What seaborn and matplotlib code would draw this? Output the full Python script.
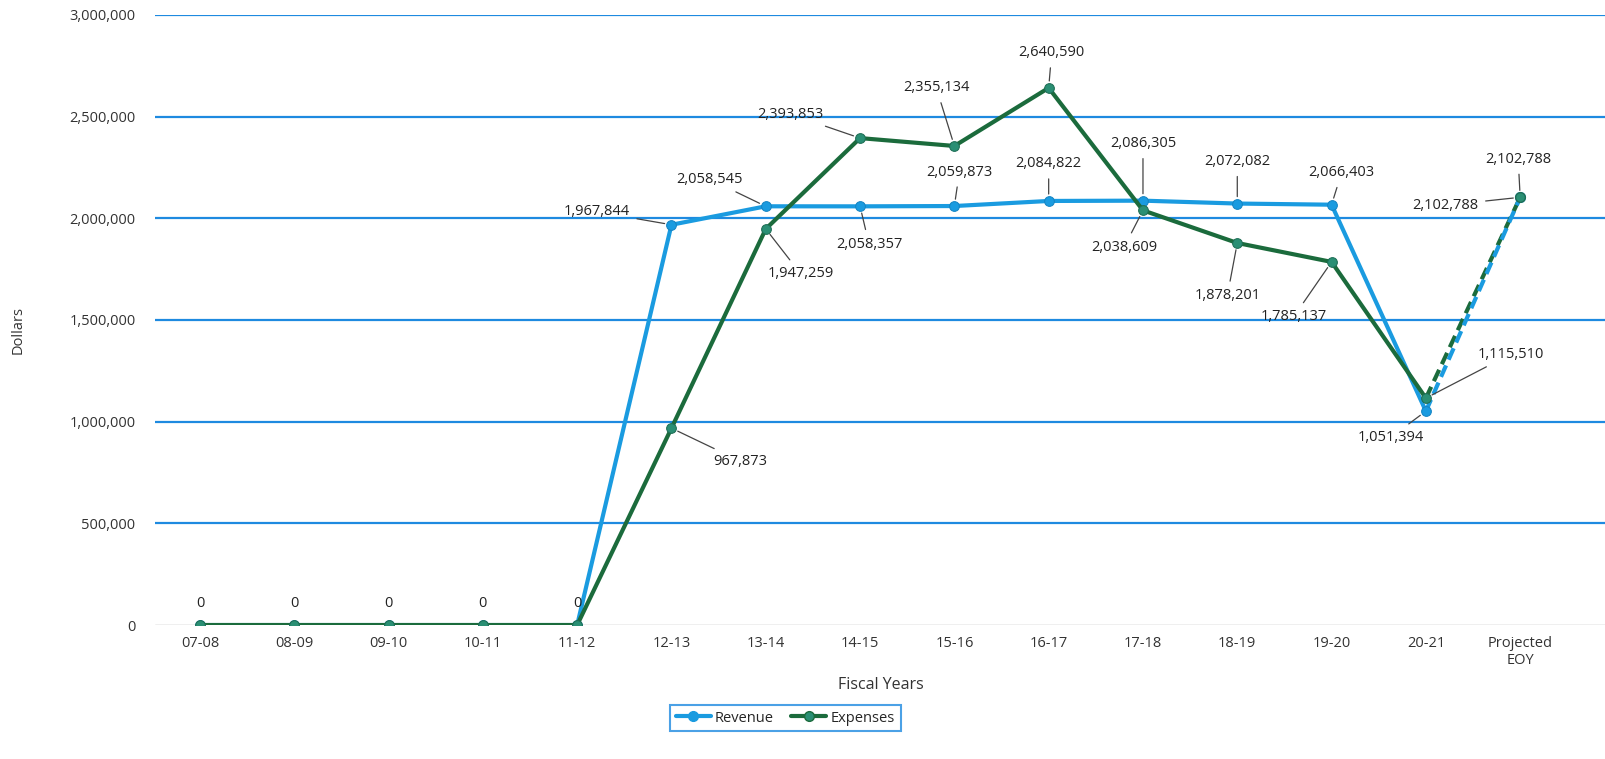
import numpy as np
import pandas as pd
import matplotlib
matplotlib.use("Agg")
import matplotlib.pyplot as plt
from matplotlib.lines import Line2D
import seaborn as sns

# data
years = ['07-08', '08-09', '09-10', '10-11', '11-12', '12-13', '13-14', '14-15',
         '15-16', '16-17', '17-18', '18-19', '19-20', '20-21', 'Projected\nEOY']
revenue = [0, 0, 0, 0, 0, 1967844, 2058545, 2058357, 2059873, 2084822,
           2086305, 2072082, 2066403, 1051394, 2102788]
expenses = [0, 0, 0, 0, 0, 967873, 1947259, 2393853, 2355134, 2640590,
            2038609, 1878201, 1785137, 1115510, 2102788]

blue = '#1A9BE0'
green = '#1B6B3C'
green_mk = '#2A8F74'
grid_blue = '#1E8AE0'

sns.set_theme(style='white')
plt.rcParams['font.family'] = ['Open Sans', 'DejaVu Sans']

fig = plt.figure(figsize=(16.06, 7.59), dpi=100)
ax = fig.add_axes([0.0965, 0.1765, 0.9035, 0.804])

idx = np.arange(len(years))
df = pd.DataFrame({'x': np.concatenate([idx, idx]),
                   'y': revenue + expenses,
                   'series': ['Revenue'] * len(idx) + ['Expenses'] * len(idx)})
solid = df[df['x'] <= 13]
proj = df[df['x'] >= 13]

# gridlines
for v in range(500000, 3000001, 500000):
    ax.axhline(v, color=grid_blue, lw=1.6, zorder=1)
ax.axhline(0, color='#B0B0B0', lw=1.0, zorder=1)

# projected (dashed) segment
sns.lineplot(data=proj[proj['series'] == 'Expenses'], x='x', y='y', color=green,
             lw=3, ax=ax, linestyle=(0, (3, 1.5)), zorder=3)
sns.lineplot(data=proj[proj['series'] == 'Revenue'], x='x', y='y', color=blue,
             lw=3, ax=ax, linestyle=(0, (3, 1.5)), zorder=3)

# solid lines
sns.lineplot(data=solid[solid['series'] == 'Revenue'], x='x', y='y', color=blue,
             lw=3, ax=ax, marker='o', markersize=7, markerfacecolor=blue,
             markeredgecolor='#1585C4', zorder=4)
sns.lineplot(data=solid[solid['series'] == 'Expenses'], x='x', y='y', color=green,
             lw=3, ax=ax, marker='o', markersize=7, markerfacecolor=green_mk,
             markeredgecolor='#1E6E55', zorder=5)
ax.plot([14], [revenue[14]], 'o', color=blue, ms=7, zorder=6)
ax.plot([14], [expenses[14]], 'o', color=green_mk, mec='#1E6E55', ms=7, zorder=7)

# data labels (offsets in pixels)
rev_off = [(0, 22), (0, 22), (0, 22), (0, 22), (0, 22), (-75, 13), (-56, 27),
           (9, -38), (5, 34), (0, 37), (0, 57), (0, 42), (10, 32), (-35, -26), (-2, 38)]
exp_off = [None, None, None, None, None, (69, -33), (35, -45), (-70, 24), (-18, 58),
           (3, 35), (-19, -37), (-10, -53), (-38, -55), (85, 44), (-75, -8)]

def put_labels(vals, offs):
    for i, (v, off) in enumerate(zip(vals, offs)):
        if off is None:
            continue
        line = None if v == 0 else dict(arrowstyle='-', color='#444444', lw=0.9,
                                        shrinkA=3, shrinkB=5)
        ax.annotate(f'{v:,}', xy=(i, v), xytext=off, textcoords='offset pixels',
                    ha='center', va='center', fontsize=10.5, color='#222222',
                    arrowprops=line, zorder=8)

put_labels(revenue, rev_off)
put_labels(expenses, exp_off)

ax.set_xlim(-0.477, 14.91)
ax.set_ylim(0, 3000000)
ax.set_xticks(idx)
ax.set_xticklabels(years, fontsize=10.5, color='#333333')
ax.set_yticks(range(0, 3000001, 500000))
ax.set_yticklabels([f'{v:,}' for v in range(0, 3000001, 500000)], fontsize=10.5, color='#333333')
ax.tick_params(axis='y', pad=14, length=0)
ax.tick_params(axis='x', pad=8, length=0)
ax.set_xlabel('Fiscal Years', fontsize=11.5, color='#333333', labelpad=6)
ax.set_ylabel('')
fig.text(0.0115, 0.565, 'Dollars', rotation=90, ha='center', va='center',
         fontsize=10.5, color='#333333')
sns.despine(ax=ax, left=True, bottom=True, top=True, right=True)

handles = [Line2D([], [], color=blue, lw=3, marker='o', ms=7, mfc=blue),
           Line2D([], [], color=green, lw=3, marker='o', ms=7, mfc=green_mk)]
leg = fig.legend(handles, ['Revenue', 'Expenses'], loc='center', ncol=2,
                 bbox_to_anchor=(0.489, 0.054), frameon=True, fontsize=10.5,
                 handlelength=2.4, handletextpad=0.3, columnspacing=1.2,
                 fancybox=False, borderpad=0.4)
leg.get_frame().set_edgecolor(grid_blue)
leg.get_frame().set_linewidth(1.5)

fig.savefig('out.png', dpi=100)
